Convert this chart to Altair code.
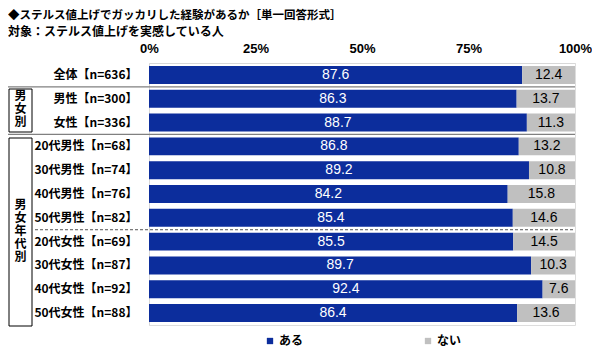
import altair as alt
import pandas as pd

categories = ["全体【n=636】", "男性【n=300】", "女性【n=336】",
              "20代男性【n=68】", "30代男性【n=74】", "40代男性【n=76】", "50代男性【n=82】",
              "20代女性【n=69】", "30代女性【n=87】", "40代女性【n=92】", "50代女性【n=88】"]
aru = [87.6, 86.3, 88.7, 86.8, 89.2, 84.2, 85.4, 85.5, 89.7, 92.4, 86.4]
nai = [12.4, 13.7, 11.3, 13.2, 10.8, 15.8, 14.6, 14.5, 10.3, 7.6, 13.6]
series = ["ある", "ない"]
colors = ["#0c2d9c", "#c0c0c0"]
x_ticks = [0, 25, 50, 75, 100]
title_lines = ["◆ステルス値上げでガッカリした経験があるか［単一回答形式］",
               "対象：ステルス値上げを実感している人"]
group1 = ["男", "女", "別"]
group2 = ["男", "女", "年", "代", "別"]

rows = []
for i, c in enumerate(categories):
    rows.append({"cat": c, "series": series[0], "value": aru[i], "ord": 0})
    rows.append({"cat": c, "series": series[1], "value": nai[i], "ord": 1})
df = pd.DataFrame(rows)

W, H = 426, 262
N = len(categories)
step = H / N
JP = "Noto Sans CJK JP"
LEFT = -141  # leftmost drawable x (page x = 8)

yscale = alt.Scale(domain=categories, paddingInner=0.245, paddingOuter=0.125)

base = alt.Chart(df)
bars = base.mark_bar().encode(
    y=alt.Y("cat:N", sort=categories, scale=yscale,
            axis=alt.Axis(title=None, labelFont=JP, labelFontSize=12, labelFontWeight="bold",
                          labelColor="black", labelPadding=12, ticks=False,
                          domainColor="#d8d8d8")),
    x=alt.X("value:Q", stack="zero", scale=alt.Scale(domain=[0, 100], nice=False),
            axis=alt.Axis(orient="top", values=x_ticks, labelExpr="datum.value + '%'",
                          ticks=False, grid=False, title=None, domainColor="#d8d8d8",
                          labelFont="Liberation Sans", labelFontSize=13, labelFontWeight="bold",
                          labelColor="black", labelPadding=8, labelFlush=False)),
    color=alt.Color("series:N", scale=alt.Scale(domain=series, range=colors),
                    legend=alt.Legend(orient="none", legendX=115, legendY=272, direction="horizontal",
                                      title=None, symbolType="square", symbolSize=40,
                                      symbolStrokeWidth=0, labelFont=JP, labelFontSize=12,
                                      labelFontWeight="bold", labelColor="black",
                                      columnPadding=118, symbolOffset=0, labelOffset=3)),
    order=alt.Order("ord:Q"),
)

text = base.transform_stack(
    stack="value", groupby=["cat"], as_=["v0", "v1"], sort=[alt.SortField("ord")]
).transform_calculate(mid="(datum.v0 + datum.v1) / 2").mark_text(
    font="Liberation Sans", fontSize=14, baseline="middle"
).encode(
    y=alt.Y("cat:N", sort=categories, scale=yscale),
    x=alt.X("mid:Q"),
    text=alt.Text("value:Q", format=".1f"),
    color=alt.condition(alt.datum.series == series[0], alt.value("white"), alt.value("black")),
)

dummy = alt.Chart(pd.DataFrame({"a": [0]}))
sep1 = dummy.mark_rule(color="#808080", strokeWidth=1.2).encode(
    x=alt.value(LEFT), x2=alt.value(W), y=alt.value(step * 1))
sep2 = dummy.mark_rule(color="#808080", strokeWidth=1.2).encode(
    x=alt.value(LEFT), x2=alt.value(W), y=alt.value(step * 3))
sep3 = dummy.mark_rule(color="#555555", strokeWidth=1, strokeDash=[3, 2]).encode(
    x=alt.value(-114), x2=alt.value(W), y=alt.value(step * 7))

box1 = dummy.mark_rect(fill="white", stroke="black", strokeWidth=1).encode(
    x=alt.value(LEFT + 1), x2=alt.value(-117), y=alt.value(26), y2=alt.value(69))
box2 = dummy.mark_rect(fill="white", stroke="black", strokeWidth=1).encode(
    x=alt.value(LEFT + 1), x2=alt.value(-117), y=alt.value(75), y2=alt.value(263))
gtext1 = dummy.mark_text(font=JP, fontSize=12, fontWeight="bold", lineHeight=13,
                         baseline="top", align="center").encode(
    x=alt.value(-128.5), y=alt.value(28), text=alt.value(group1))
gtext2 = dummy.mark_text(font=JP, fontSize=12, fontWeight="bold", lineHeight=13,
                         baseline="top", align="center").encode(
    x=alt.value(-128.5), y=alt.value(137), text=alt.value(group2))

t1 = dummy.mark_text(font=JP, fontSize=11.5, fontWeight="bold", align="left", baseline="middle").encode(
    x=alt.value(LEFT), y=alt.value(-47), text=alt.value(title_lines[0]))
t2 = dummy.mark_text(font=JP, fontSize=12, fontWeight="bold", align="left", baseline="middle").encode(
    x=alt.value(LEFT), y=alt.value(-31), text=alt.value(title_lines[1]))

chart = alt.layer(bars, text, sep1, sep2, sep3, box1, box2, gtext1, gtext2, t1, t2).properties(
    width=W, height=H,
    autosize=alt.AutoSizeParams(type="none"),
    padding={"left": 141, "top": 55, "right": 17, "bottom": 30},
).configure_view(stroke=None).configure(font=JP, background="white")

chart.save("out.html", embed_options={"renderer": "svg", "actions": False})
